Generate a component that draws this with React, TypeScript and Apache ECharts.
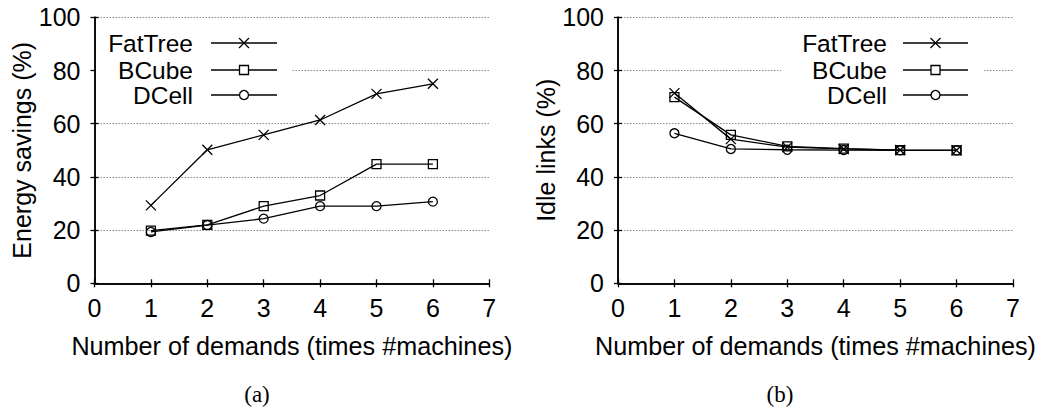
import React, { useEffect, useRef } from "react";
import * as echarts from "echarts";

const xs = [1, 2, 3, 4, 5, 6];
const energyFatTree = [29.3, 50.2, 55.8, 61.4, 71.2, 75.0];
const energyBCube = [19.8, 22.0, 29.0, 33.0, 44.8, 44.8];
const energyDCell = [19.3, 21.9, 24.3, 29.0, 29.0, 30.7];
const idleFatTree = [71.5, 54.2, 51.2, 50.5, 50.1, 50.0];
const idleBCube = [70.0, 55.8, 51.5, 50.6, 50.1, 50.0];
const idleDCell = [56.4, 50.5, 50.2, 50.1, 50.0, 50.0];
const seriesNames = ["FatTree", "BCube", "DCell"];
const xTicks = { min: 0, max: 7, interval: 1 };
const yTicks = { min: 0, max: 100, interval: 20 };

const FONT = "Liberation Sans, Arial, sans-serif";
const crossPath = "path://M0,0L10,10M10,0L0,10";

export default function App() {
  const ref = useRef<HTMLDivElement>(null);
  useEffect(() => {
    if (!ref.current) return;
    const chart = echarts.init(ref.current, null, { renderer: "svg" });

    const grids = [
      { left: 94.5, top: 17.3, width: 394.8, height: 266 },
      { left: 618, top: 17.3, width: 395, height: 266 },
    ];
    const lineW = 1.5;
    const tickStyle = { color: "#000", width: 1.3 };
    const mainX = (g: number) => ({
      type: "value",
      gridIndex: g,
      ...xTicks,
      position: "bottom",
      name: "Number of demands (times #machines)",
      nameLocation: "middle",
      nameGap: 50,
      nameTextStyle: { fontFamily: FONT, fontSize: 25.2, color: "#000" },
      axisLine: { show: true, lineStyle: { color: "#000", width: lineW } },
      axisTick: { show: true, inside: true, length: 4, lineStyle: tickStyle },
      axisLabel: { fontFamily: FONT, fontSize: 25, color: "#000", margin: 12 },
      splitLine: { show: false },
    });
    const mirrorX = (g: number) => ({
      type: "value",
      gridIndex: g,
      ...xTicks,
      position: "top",
      axisLine: { show: true, lineStyle: { color: "#000", width: lineW } },
      axisTick: { show: true, inside: true, length: 4, lineStyle: tickStyle },
      axisLabel: { show: false },
      splitLine: { show: false },
    });
    const mainY = (g: number, name: string) => ({
      type: "value",
      gridIndex: g,
      ...yTicks,
      position: "left",
      name,
      nameLocation: "middle",
      nameGap: 60,
      nameTextStyle: { fontFamily: FONT, fontSize: 25, color: "#000" },
      axisLine: { show: true, lineStyle: { color: "#000", width: lineW } },
      axisTick: { show: true, inside: true, length: 4, lineStyle: tickStyle },
      axisLabel: { fontFamily: FONT, fontSize: 25, color: "#000", margin: 14 },
      splitLine: { show: true, lineStyle: { color: "#888", width: 1, type: [1.5, 1.5] } },
    });
    const mirrorY = (g: number) => ({
      type: "value",
      gridIndex: g,
      ...yTicks,
      position: "right",
      axisLine: { show: true, lineStyle: { color: "#000", width: lineW } },
      axisTick: { show: true, inside: true, length: 4, lineStyle: tickStyle },
      axisLabel: { show: false },
      splitLine: { show: false },
    });

    const symbols = [crossPath, "rect", "circle"];
    const mk = (name: string, idx: number, vals: number[], g: number) => ({
      type: "line",
      name,
      xAxisIndex: g * 2,
      yAxisIndex: g * 2,
      data: xs.map((x, i) => [x, vals[i]]),
      symbol: symbols[idx],
      symbolSize: idx === 0 ? 10 : 9,
      showSymbol: true,
      lineStyle: { color: "#000", width: 1.3 },
      itemStyle: { color: "rgba(0,0,0,0)", borderColor: "#000", borderWidth: 1.3 },
      z: 3,
    });

    const legendGraphic = (textRight: number, lineL: number, lineR: number, bgL: number, bgR: number) => {
      const rows = [43, 70, 95];
      const els: any[] = [
        { type: "rect", shape: { x: bgL, y: 28, width: bgR - bgL, height: 82 }, style: { fill: "#fff" }, z: 5 },
      ];
      const mid = (lineL + lineR) / 2;
      seriesNames.forEach((n, i) => {
        const y = rows[i];
        els.push({
          type: "text",
          style: { text: n, x: textRight, y, align: "right", verticalAlign: "middle", font: `24.5px ${FONT}`, fill: "#000" },
          z: 6,
        });
        els.push({ type: "line", shape: { x1: lineL, y1: y, x2: lineR, y2: y }, style: { stroke: "#000", lineWidth: 1.3 }, z: 6 });
        if (i === 0) {
          els.push({ type: "line", shape: { x1: mid - 5, y1: y - 5, x2: mid + 5, y2: y + 5 }, style: { stroke: "#000", lineWidth: 1.3 }, z: 7 });
          els.push({ type: "line", shape: { x1: mid + 5, y1: y - 5, x2: mid - 5, y2: y + 5 }, style: { stroke: "#000", lineWidth: 1.3 }, z: 7 });
        } else if (i === 1) {
          els.push({ type: "rect", shape: { x: mid - 4.5, y: y - 4.5, width: 9, height: 9 }, style: { fill: "#fff", stroke: "#000", lineWidth: 1.3 }, z: 7 });
        } else {
          els.push({ type: "circle", shape: { cx: mid, cy: y, r: 4.5 }, style: { fill: "#fff", stroke: "#000", lineWidth: 1.3 }, z: 7 });
        }
      });
      return els;
    };

    const capFont = "23px Liberation Serif, Times New Roman, serif";
    chart.setOption({
      animation: false,
      backgroundColor: "#fff",
      grid: grids,
      xAxis: [mainX(0), mirrorX(0), mainX(1), mirrorX(1)],
      yAxis: [mainY(0, "Energy savings (%)"), mirrorY(0), mainY(1, "Idle links (%)"), mirrorY(1)],
      series: [
        mk("FatTree", 0, energyFatTree, 0),
        mk("BCube", 1, energyBCube, 0),
        mk("DCell", 2, energyDCell, 0),
        mk("FatTree", 0, idleFatTree, 1),
        mk("BCube", 1, idleBCube, 1),
        mk("DCell", 2, idleDCell, 1),
      ],
      graphic: [
        ...legendGraphic(193, 211, 277, 96, 292),
        ...legendGraphic(887, 903, 968, 781, 983),
        {
          type: "text",
          style: { text: "(a)", x: 257, y: 394, align: "center", verticalAlign: "middle", font: capFont, fill: "#000" },
        },
        {
          type: "text",
          style: { text: "(b)", x: 780, y: 394, align: "center", verticalAlign: "middle", font: capFont, fill: "#000" },
        },
      ],
    });
    return () => chart.dispose();
  }, []);
  return <div ref={ref} style={{ position: "fixed", left: 0, top: 0, width: 1043, height: 408 }} />;
}
